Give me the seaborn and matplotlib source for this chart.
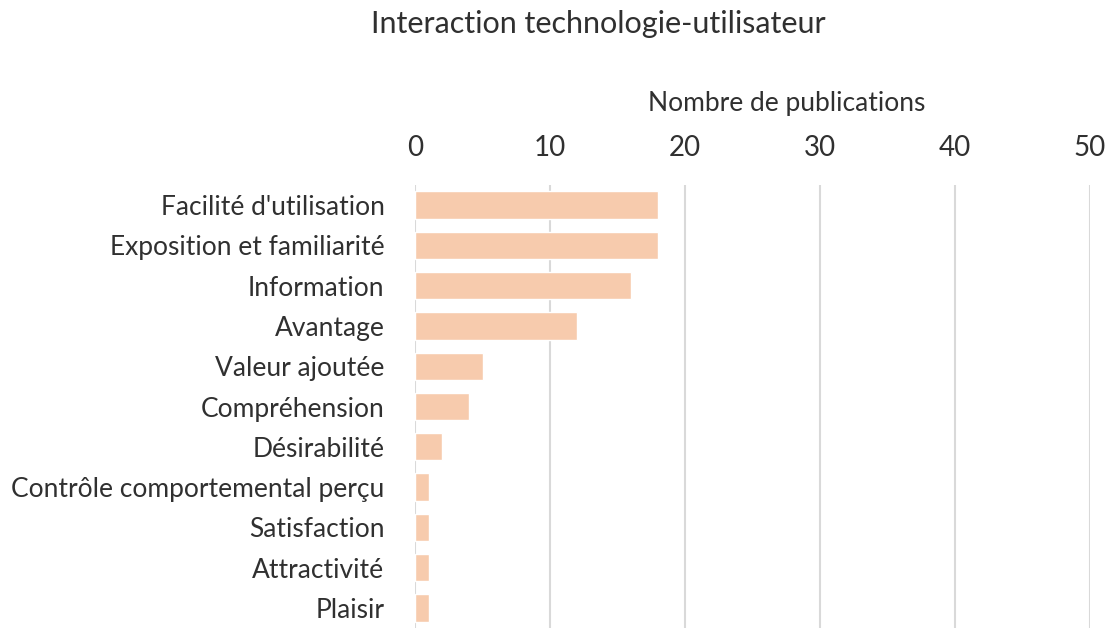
import matplotlib
matplotlib.use("Agg")
import matplotlib.pyplot as plt
import seaborn as sns
import pandas as pd

categories = ["Facilité d'utilisation", "Exposition et familiarité", "Information", "Avantage",
              "Valeur ajoutée", "Compréhension", "Désirabilité", "Contrôle comportemental perçu",
              "Satisfaction", "Attractivité", "Plaisir"]
values = [18, 18, 16, 12, 5, 4, 2, 1, 1, 1, 1]
xticks = [0, 10, 20, 30, 40, 50]

sns.set_theme(style="white")
plt.rcParams['font.family'] = ['Lato', 'DejaVu Sans']
txt = '#303030'

df = pd.DataFrame({"cat": categories, "val": values})
fig = plt.figure(figsize=(11.11, 6.3), dpi=100)
ax = fig.add_axes([415/1111, 2/630, 675/1111, (628-185)/630])
sns.barplot(data=df, x="val", y="cat", color="#F7CBAD", saturation=1, width=0.68, ax=ax, orient="h")
ax.set_xlim(0, 50)
ax.set_ylim(10.5, -0.5)
ax.set_xticks(xticks)
ax.xaxis.tick_top()
ax.tick_params(axis='x', length=0, pad=17, labelsize=20, colors=txt)
ax.tick_params(axis='y', length=0, pad=22, labelsize=19, colors=txt)
ax.set_xlabel("")
ax.set_ylabel("")
ax.grid(axis='x', color='#D9D9D9', linewidth=1.5)
ax.set_axisbelow(True)
for s in ax.spines.values():
    s.set_visible(False)
fig.text(598/1111, 1-24/630, "Interaction technologie-utilisateur", ha='center', va='center',
         fontsize=22, color=txt)
fig.text(787/1111, 1-103/630, "Nombre de publications", ha='center', va='center',
         fontsize=19, color=txt)
fig.savefig("out.png", dpi=100)
